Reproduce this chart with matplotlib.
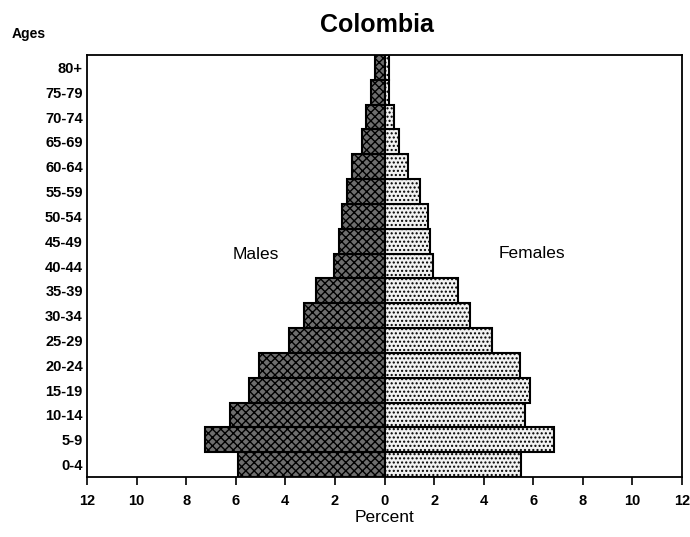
import matplotlib
matplotlib.use("Agg")
from matplotlib import pyplot as plt
import numpy as np

plt.rcParams['font.family'] = ['Liberation Sans', 'DejaVu Sans']

ages = ["0-4", "5-9", "10-14", "15-19", "20-24", "25-29", "30-34", "35-39",
        "40-44", "45-49", "50-54", "55-59", "60-64", "65-69", "70-74",
        "75-79", "80+"]
males = [5.9, 7.25, 6.25, 5.45, 5.05, 3.85, 3.25, 2.75, 2.05, 1.85, 1.7,
         1.5, 1.3, 0.9, 0.75, 0.55, 0.4]
females = [5.5, 6.85, 5.65, 5.85, 5.45, 4.35, 3.45, 2.95, 1.95, 1.85, 1.75,
           1.45, 0.95, 0.6, 0.4, 0.2, 0.2]
ticks = [-12, -10, -8, -6, -4, -2, 0, 2, 4, 6, 8, 10, 12]

fig = plt.figure(figsize=(6.9, 5.37), dpi=100)
ax = fig.add_axes([87 / 690, 60 / 537, 595 / 690, 422 / 537])

y = np.arange(len(ages))
ax.barh(y, [-m for m in males], height=1.0, facecolor='#6e6e6e',
        edgecolor='black', linewidth=1.5, hatch='xxxx')
ax.barh(y, females, height=1.0, facecolor='#f2f2f2',
        edgecolor='black', linewidth=1.5, hatch='....')

ax.set_xlim(-12, 12)
ax.set_ylim(-0.5, 16.5)
ax.set_xticks(ticks)
ax.set_xticklabels([str(abs(t)) for t in ticks], fontsize=10.5, fontweight='bold')
ax.set_yticks(y)
ax.set_yticklabels(ages, fontsize=10.5, fontweight='bold')
ax.tick_params(axis='y', length=0, pad=3)
ax.tick_params(axis='x', direction='out', length=6, width=1.2, pad=6)
for s in ax.spines.values():
    s.set_linewidth(1.3)

ax.set_xlabel("Percent", fontsize=12.5, labelpad=2)
ax.text(-5.2, 8.45, "Males", fontsize=12.5, ha='center', va='center')
ax.text(5.95, 8.5, "Females", fontsize=12.5, ha='center', va='center')

fig.text(377 / 690, 1 - 25 / 537, "Colombia", fontsize=18, fontweight='bold',
         ha='center', va='center')
fig.text(12 / 690, 1 - 34 / 537, "Ages", fontsize=10, fontweight='bold',
         ha='left', va='center')

fig.savefig("out.png", dpi=100)
